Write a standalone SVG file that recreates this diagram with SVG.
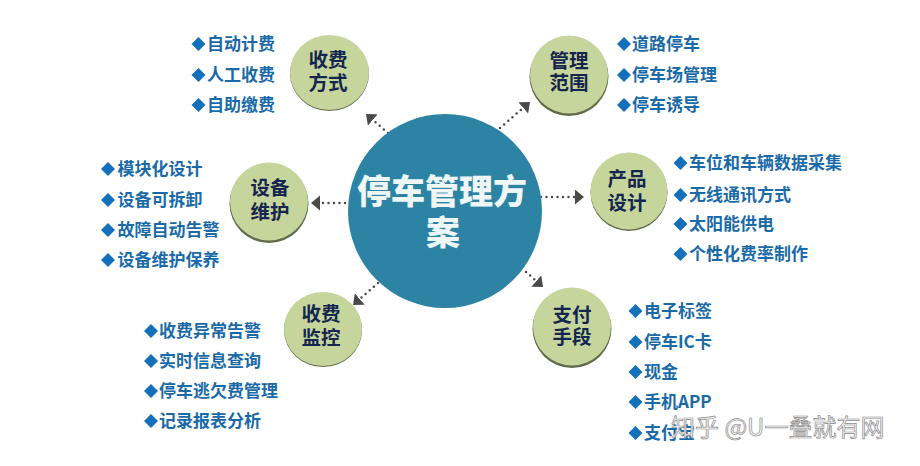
<svg xmlns="http://www.w3.org/2000/svg" width="920" height="466" viewBox="0 0 920 466">
<style>
text{font-family:"Noto Sans CJK SC","Liberation Sans",sans-serif;font-weight:700;dominant-baseline:central;transform:translateY(-1.5px)}
.n{font-size:19.500px;fill:#14264f;text-anchor:middle}
.i{font-size:17px;fill:#1a6aa8}
.t{font-size:34px;fill:#eef6f6;text-anchor:middle;font-weight:900}
.c{fill:#c6d59b}
.s{fill:#5f6b4a}
.l{fill:none;stroke:#4a4a4a;stroke-width:2.500;stroke-dasharray:0 5.500;stroke-linecap:round}
.w{font-size:24px;font-weight:400;fill:#f6f6f6;stroke:#8d8d8d;stroke-width:.7}
</style>
<defs>
<polygon id="d" points="-7,0 0,-7 7,0 0,7" fill="#1470bb"/>
<marker id="a" markerWidth="10" markerHeight="16" refX="0" refY="7.500" orient="auto" markerUnits="userSpaceOnUse"><polygon points="0,0 9,7.500 0,15" fill="#4a4a4a"/></marker>
</defs>
<rect width="920" height="466" fill="#fff"/>
<g id="connectors">
<path class="l" d="M388 133L372.800 119.900" marker-end="url(#a)"/>
<path class="l" d="M500 128L523.200 107.900" marker-end="url(#a)"/>
<path class="l" d="M541 197L575 197" marker-end="url(#a)"/>
<path class="l" d="M345 203L320 203" marker-end="url(#a)"/>
<path class="l" d="M526 272L536.300 281" marker-end="url(#a)"/>
<path class="l" d="M378 283L359.800 299" marker-end="url(#a)"/>
</g>
<g id="center"><circle cx="445" cy="211" r="97" fill="#2c83a3"/>
<text class="t" x="442" y="191">停车管理方</text>
<text class="t" x="443" y="232">案</text></g>
<g id="n1"><ellipse class="s" cx="329.500" cy="73.500" rx="39.500" ry="37.500"/><ellipse class="c" cx="329.500" cy="72.500" rx="39.500" ry="37.500"/>
<text class="n" x="328" y="60">收费</text><text class="n" x="328" y="83">方式</text>
<use href="#d" x="198.500" y="44"/><text class="i" x="207" y="44">自动计费</text>
<use href="#d" x="198.500" y="75"/><text class="i" x="207" y="75">人工收费</text>
<use href="#d" x="198.500" y="105"/><text class="i" x="207" y="105">自助缴费</text></g>
<g id="n2"><circle class="s" cx="569" cy="76.500" r="39.500"/><circle class="c" cx="569" cy="74.500" r="39"/>
<text class="n" x="569" y="61">管理</text><text class="n" x="569" y="83">范围</text>
<use href="#d" x="624" y="44"/><text class="i" x="632" y="44">道路停车</text>
<use href="#d" x="624" y="75"/><text class="i" x="632" y="75">停车场管理</text>
<use href="#d" x="624" y="105"/><text class="i" x="632" y="105">停车诱导</text></g>
<g id="n3"><circle class="s" cx="629" cy="192.500" r="38.500"/><circle class="c" cx="629" cy="191" r="38.500"/>
<text class="n" x="627" y="179">产品</text><text class="n" x="627" y="203">设计</text>
<use href="#d" x="680.500" y="163"/><text class="i" x="689" y="163">车位和车辆数据采集</text>
<use href="#d" x="680.500" y="195"/><text class="i" x="689" y="195">无线通讯方式</text>
<use href="#d" x="680.500" y="224"/><text class="i" x="689" y="224">太阳能供电</text>
<use href="#d" x="680.500" y="254"/><text class="i" x="689" y="254">个性化费率制作</text></g>
<g id="n4"><circle class="s" cx="269" cy="203.500" r="39.500"/><circle class="c" cx="269" cy="201.500" r="39"/>
<text class="n" x="270" y="188">设备</text><text class="n" x="270" y="212">维护</text>
<use href="#d" x="108" y="169"/><text class="i" x="117.500" y="169">模块化设计</text>
<use href="#d" x="108" y="200"/><text class="i" x="117.500" y="200">设备可拆卸</text>
<use href="#d" x="108" y="230"/><text class="i" x="117.500" y="230">故障自动告警</text>
<use href="#d" x="108" y="260"/><text class="i" x="117.500" y="260">设备维护保养</text></g>
<g id="n5"><ellipse class="s" cx="323" cy="330" rx="39" ry="37"/><ellipse class="c" cx="323" cy="329" rx="39" ry="37"/>
<text class="n" x="321" y="314">收费</text><text class="n" x="321" y="338">监控</text>
<use href="#d" x="151" y="331"/><text class="i" x="159" y="331">收费异常告警</text>
<use href="#d" x="151" y="361"/><text class="i" x="159" y="361">实时信息查询</text>
<use href="#d" x="151" y="391"/><text class="i" x="159" y="391">停车逃欠费管理</text>
<use href="#d" x="151" y="421"/><text class="i" x="159" y="421">记录报表分析</text></g>
<g id="n6"><circle class="s" cx="572" cy="328.500" r="39.500"/><circle class="c" cx="572" cy="326.500" r="39"/>
<text class="n" x="572" y="315">支付</text><text class="n" x="572" y="337">手段</text>
<use href="#d" x="635.500" y="311"/><text class="i" x="644" y="311">电子标签</text>
<use href="#d" x="635.500" y="342"/><text class="i" x="644" y="342">停车IC卡</text>
<use href="#d" x="635.500" y="372"/><text class="i" x="644" y="372">现金</text>
<use href="#d" x="635.500" y="402"/><text class="i" x="644" y="402">手机APP</text>
<use href="#d" x="635.500" y="433"/><text class="i" x="644" y="433">支付宝</text></g>
<text class="w" x="671" y="427">知乎 @U一叠就有网</text>
</svg>
